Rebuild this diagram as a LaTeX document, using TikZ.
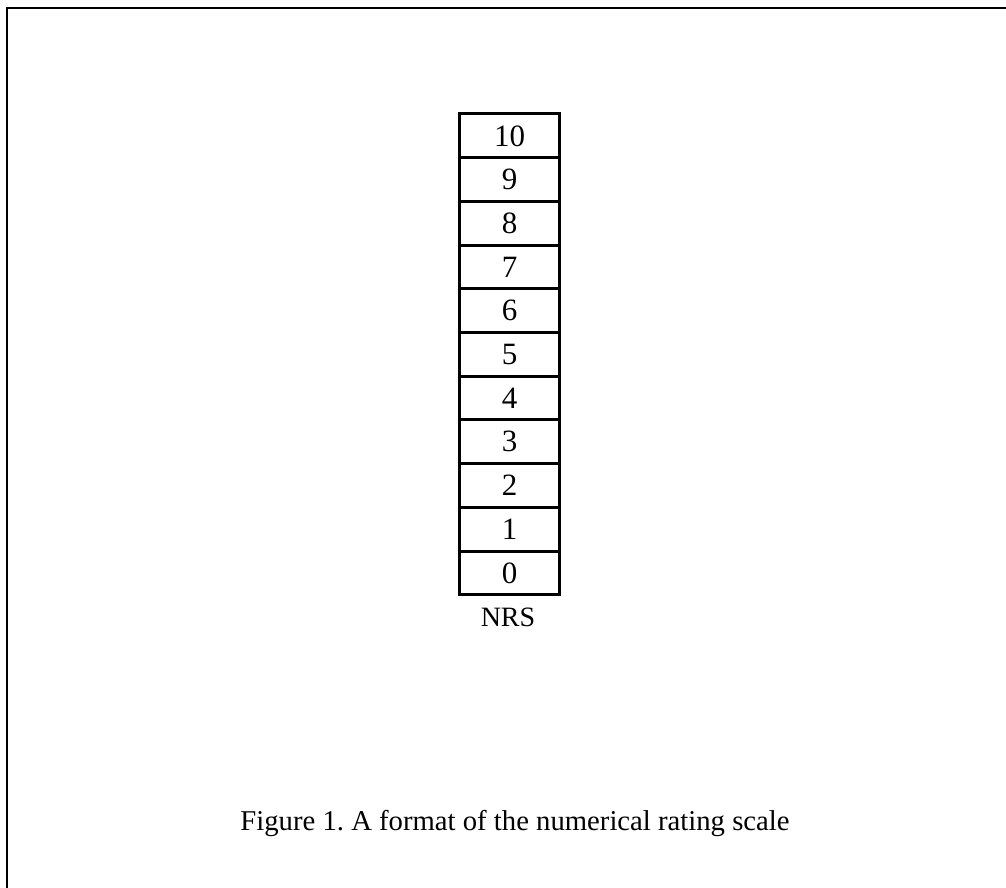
\documentclass[tikz,border=0pt]{standalone}
\usepackage{fontspec}
\setmainfont{Liberation Serif}
\frenchspacing
\begin{document}
\begin{tikzpicture}[x=1pt,y=-1pt,
  cell/.style={draw=black,line width=3pt,minimum width=100pt,minimum height=43.7pt,inner sep=0pt,font=\fontsize{31}{36}\selectfont,anchor=north west},
  frameline/.style={draw=black,line width=2.2pt}]
\useasboundingbox (0,0) rectangle (1006,888);
\coordinate (ftop) at (1006,8);
\coordinate (fcorner) at (7,8);
\coordinate (fbottom) at (7,888);
\draw[frameline] (ftop) -- (fcorner) -- (fbottom);
\foreach \v [count=\i from 0] in {10,9,8,7,6,5,4,3,2,1,0}{
  \node[cell] (c\v) at (458,{112.5+43.7*\i}) {\v};
}
\node[font=\fontsize{28}{34}\selectfont] (nrs) at (508,617) {NRS};
\node[font=\fontsize{28.7}{35}\selectfont] (cap) at (515,823) {Figure 1. A format of the numerical rating scale};
\end{tikzpicture}
\end{document}
